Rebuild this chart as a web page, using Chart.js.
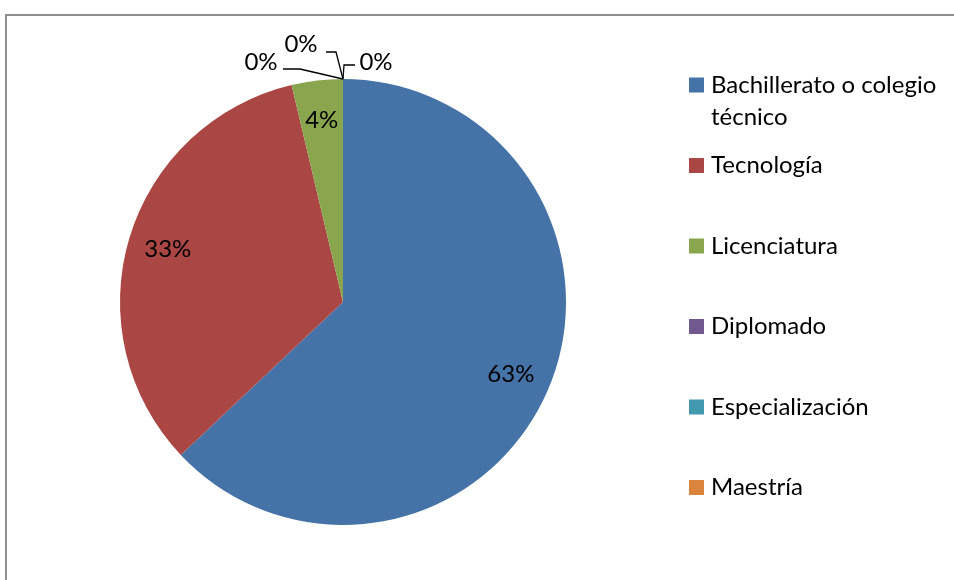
<!DOCTYPE html>
<html>
<head>
<meta charset="utf-8">
<script src="https://cdn.jsdelivr.net/npm/chart.js@4"></script>
<style>
    body { margin: 0; background: #fff; }
    #frame {
        position: absolute; left: 5px; top: 14px;
        width: 1000px; height: 620px;
        border: 2px solid #8f8f8f; background: #fff;
    }
    #pieChart { position: absolute; left: 0; top: 0; }
</style>
</head>
<body>
<div id="frame"></div>
<canvas id="pieChart" width="954" height="580"></canvas>
<script>
// === Data ===
const categories = ['Bachillerato o colegio técnico', 'Tecnología', 'Licenciatura', 'Diplomado', 'Especialización', 'Maestría'];
const counts = [17, 9, 1, 0, 0, 0];
const sliceColors = ['#4572A7', '#AA4643', '#89A54E', '#71588F', '#4198AF', '#DB843D'];

const FONT = '24px Lato, "Open Sans", sans-serif';

// where the "0%" labels of empty slices go, relative to the point they leave from
const zeroLabelSpots = [
    { dx: -82, dy: -17, path: [[-43, -10], [-60, -10]] },
    { dx: -42, dy: -35, path: [[-7, -27], [-17, -27]] },
    { dx: 33, dy: -17, path: [[1, -14], [12, -14]] }
];

// === Helpers ===
function percentText(v) {
    const total = counts.reduce((s, c) => s + c, 0);
    return Math.round(v / total * 100) + '%';
}

function wrapText(ctx, text, maxWidth) {
    const words = text.split(' ');
    const lines = [];
    let line = '';
    words.forEach(w => {
        const test = line ? line + ' ' + w : w;
        if (ctx.measureText(test).width > maxWidth && line) {
            lines.push(line);
            line = w;
        } else {
            line = test;
        }
    });
    if (line) lines.push(line);
    return lines;
}

// === Plugins ===
const sliceLabels = {
    id: 'sliceLabels',
    afterDatasetsDraw(chart) {
        const ctx = chart.ctx;
        const arcs = chart.getDatasetMeta(0).data;
        ctx.save();
        ctx.font = FONT;
        ctx.fillStyle = '#000';
        ctx.strokeStyle = '#000';
        ctx.lineWidth = 1.3;
        ctx.textAlign = 'center';
        ctx.textBaseline = 'middle';
        let zeroIdx = 0;
        arcs.forEach((arc, i) => {
            const { x, y, startAngle, endAngle, outerRadius } = arc.getProps(['x', 'y', 'startAngle', 'endAngle', 'outerRadius'], true);
            const text = percentText(counts[i]);
            if (counts[i] > 0) {
                const mid = (startAngle + endAngle) / 2;
                const r = outerRadius * 0.82;
                ctx.fillText(text, x + Math.cos(mid) * r, y + Math.sin(mid) * r);
            } else {
                const spot = zeroLabelSpots[zeroIdx++ % zeroLabelSpots.length];
                const ax = x + Math.cos(startAngle) * outerRadius;
                const ay = y + Math.sin(startAngle) * outerRadius;
                ctx.beginPath();
                ctx.moveTo(ax, ay);
                spot.path.forEach(p => ctx.lineTo(ax + p[0], ay + p[1]));
                ctx.stroke();
                ctx.fillText(text, ax + spot.dx, ay + spot.dy);
            }
        });
        ctx.restore();
    }
};

const sideLegend = {
    id: 'sideLegend',
    afterDraw(chart) {
        const ctx = chart.ctx;
        const boxX = 689, textX = 711, firstY = 85, step = 80.5, lineH = 32, box = 15;
        ctx.save();
        ctx.font = FONT;
        ctx.textBaseline = 'middle';
        ctx.textAlign = 'left';
        categories.forEach((label, i) => {
            const cy = firstY + i * step;
            ctx.fillStyle = sliceColors[i];
            ctx.fillRect(boxX, cy - box / 2, box, box);
            ctx.fillStyle = '#000';
            wrapText(ctx, label, chart.width - textX - 4).forEach((ln, k) => {
                ctx.fillText(ln, textX, cy + k * lineH);
            });
        });
        ctx.restore();
    }
};

// === Build ===
new Chart(document.getElementById('pieChart'), {
    type: 'pie',
    data: {
        labels: categories,
        datasets: [{
            data: counts,
            backgroundColor: sliceColors,
            borderWidth: 0
        }]
    },
    options: {
        responsive: false,
        animation: false,
        layout: { padding: { left: 120, top: 79, right: 388, bottom: 55 } },
        plugins: {
            legend: { display: false },
            tooltip: { enabled: false }
        }
    },
    plugins: [sliceLabels, sideLegend]
});
</script>
</body>
</html>
